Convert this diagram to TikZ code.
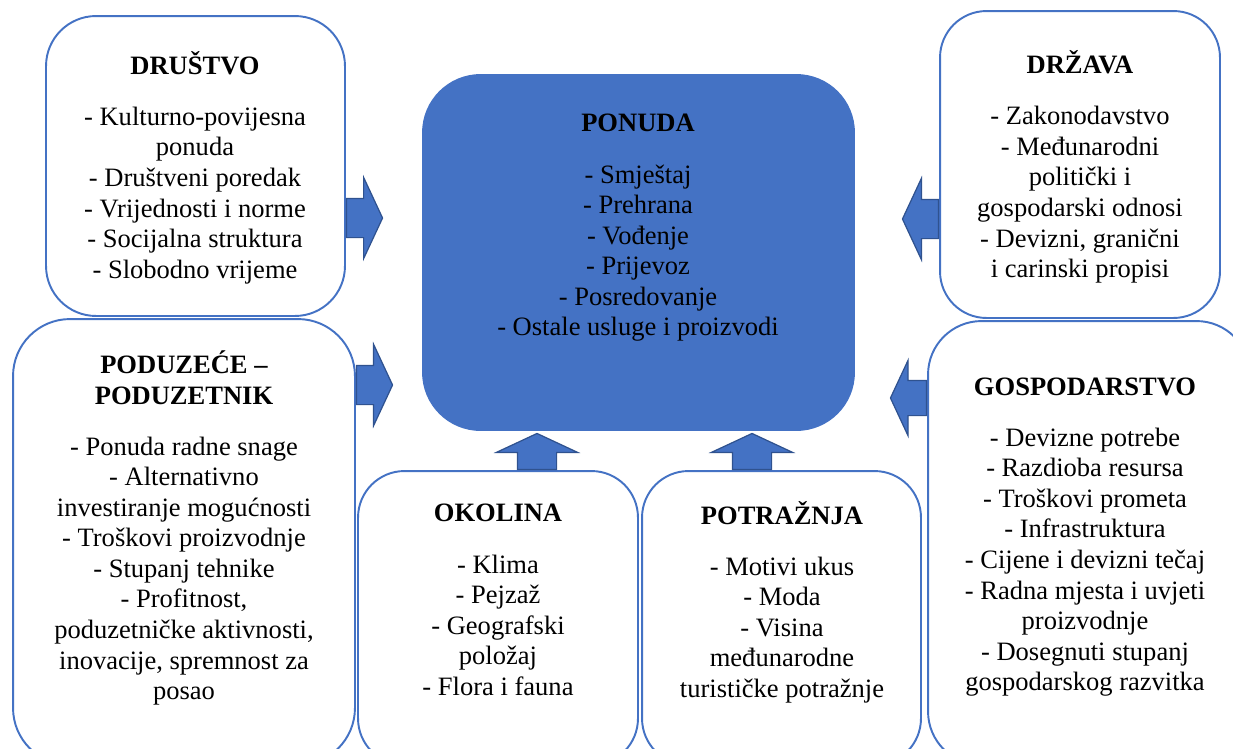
\documentclass[tikz,border=0pt]{standalone}
\usepackage{fontspec}
\setmainfont{Liberation Serif}
\usetikzlibrary{shapes.arrows}
\definecolor{ponudablue}{HTML}{4472C4}
\definecolor{arrowedge}{HTML}{2F528F}

\begin{document}
\begin{tikzpicture}[x=0.02cm, y=-0.02cm,
      box/.style={rectangle, draw=ponudablue, line width=1.1pt, fill=white},
      mainbox/.style={rectangle, draw=ponudablue, fill=ponudablue, line width=1.1pt},
      txt/.style={align=center, inner sep=0pt, font=\fontsize{15.1pt}{17.4pt}\selectfont},
      blockarrow/.style={single arrow, draw=arrowedge, fill=ponudablue, line width=0.7pt,
          text height=0pt, text depth=0pt, inner xsep=0pt, inner ysep=0.38cm,
          minimum height=0.72cm, minimum width=1.6cm,
          single arrow head extend=0.42cm, single arrow tip angle=130}
    ]
    \useasboundingbox (0,0) rectangle (1233,748);
    \clip (0,0) rectangle (1233,748);

    \node[mainbox, rounded corners=1.15cm, minimum width=8.62cm, minimum height=7.1cm] (ponuda) at (638.5,252.5) {};
    \node[box, rounded corners=1.0cm, minimum width=5.98cm, minimum height=6cm] (drustvo) at (195.5,166) {};
    \node[box, rounded corners=0.93cm, minimum width=5.6cm, minimum height=6.14cm] (drzava) at (1080,164.5) {};
    \node[box, rounded corners=1.14cm, minimum width=6.84cm, minimum height=8.92cm] (poduzece) at (184,542) {};
    \node[box, rounded corners=0.93cm, minimum width=5.6cm, minimum height=5.88cm] (okolina) at (498,618) {};
    \node[box, rounded corners=0.93cm, minimum width=5.58cm, minimum height=5.88cm] (potraznja) at (781.5,618) {};
    \node[box, rounded corners=1.07cm, minimum width=6.44cm, minimum height=8.88cm] (gospodarstvo) at (1089,543) {};

    \node[txt] (ponuda-t) at (638,228) {\textbf{PONUDA}\\[0.41cm]
        - Smještaj\\- Prehrana\\- Vođenje\\- Prijevoz\\- Posredovanje\\- Ostale usluge i proizvodi};
    \node[txt] (drustvo-t) at (195,167.5) {\textbf{DRUŠTVO}\\[0.41cm]
        - Kulturno-povijesna\\ponuda\\- Društveni poredak\\- Vrijednosti i norme\\- Socijalna struktura\\- Slobodno vrijeme};
    \node[txt] (drzava-t) at (1080,167) {\textbf{DRŽAVA}\\[0.41cm]
        - Zakonodavstvo\\- Međunarodni\\politički i\\gospodarski odnosi\\- Devizni, granični\\i carinski propisi};
    \node[txt] (poduzece-t) at (184,528) {\textbf{PODUZEĆE –}\\\textbf{PODUZETNIK}\\[0.41cm]
        - Ponuda radne snage\\- Alternativno\\investiranje mogućnosti\\- Troškovi proizvodnje\\- Stupanj tehnike\\- Profitnost,\\poduzetničke aktivnosti,\\inovacije, spremnost za\\posao};
    \node[txt] (okolina-t) at (498,600) {\textbf{OKOLINA}\\[0.41cm]
        - Klima\\- Pejzaž\\- Geografski\\položaj\\- Flora i fauna};
    \node[txt] (potraznja-t) at (782,602) {\textbf{POTRAŽNJA}\\[0.41cm]
        - Motivi ukus\\- Moda\\- Visina\\međunarodne\\turističke potražnje};
    \node[txt] (gospodarstvo-t) at (1085,537) {\textbf{GOSPODARSTVO}\\[0.41cm]
        - Devizne potrebe\\- Razdioba resursa\\- Troškovi prometa\\- Infrastruktura\\- Cijene i devizni tečaj\\- Radna mjesta i uvjeti\\proizvodnje\\- Dosegnuti stupanj\\gospodarskog razvitka};

    \node[blockarrow, anchor=tail] (drustvo-a) at (drustvo.east |- 0,218) {};
    \node[blockarrow, anchor=tail] (poduzece-a) at (poduzece.east |- 0,385) {};
    \node[blockarrow, anchor=tail, rotate=90] (okolina-a) at (okolina.north -| 537,0) {};
    \node[blockarrow, anchor=tail, rotate=90] (potraznja-a) at (potraznja.north -| 752,0) {};
    \node[blockarrow, anchor=tail, rotate=180] (drzava-a) at (drzava.west |- 0,219) {};
    \node[blockarrow, anchor=tail, rotate=180, inner ysep=0.34cm, minimum width=1.48cm, single arrow head extend=0.4cm] (gospodarstvo-a) at (gospodarstvo.west |- 0,398) {};
\end{tikzpicture}
\end{document}
